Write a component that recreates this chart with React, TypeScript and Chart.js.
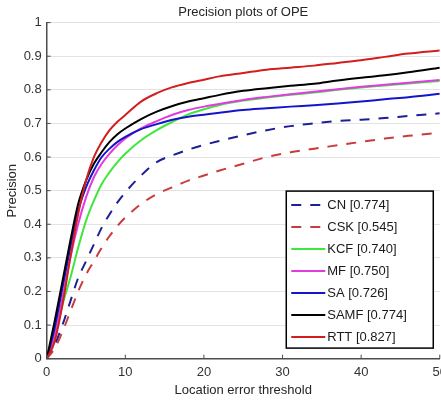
import React, { useEffect, useRef } from "react";
import { Chart, registerables } from "chart.js";

Chart.register(...registerables);

// ---- data ----
const X_THRESHOLDS = [0, 1, 2, 3, 4, 5, 6, 7, 8, 9, 10, 12, 14, 16, 18, 20, 22, 25, 28, 31, 34, 37, 40, 43, 46, 50];

const CN = [0, 0.04, 0.1, 0.17, 0.24, 0.29, 0.34, 0.39, 0.43, 0.465, 0.495, 0.545, 0.585, 0.605, 0.622, 0.636, 0.648, 0.665, 0.68, 0.692, 0.7, 0.707, 0.711, 0.716, 0.722, 0.73];
const CSK = [0, 0.03, 0.08, 0.14, 0.2, 0.25, 0.29, 0.33, 0.365, 0.395, 0.42, 0.46, 0.49, 0.51, 0.53, 0.545, 0.56, 0.58, 0.6, 0.614, 0.625, 0.635, 0.645, 0.655, 0.663, 0.672];
const KCF = [0, 0.06, 0.16, 0.24, 0.33, 0.41, 0.47, 0.52, 0.555, 0.585, 0.61, 0.65, 0.68, 0.705, 0.727, 0.742, 0.755, 0.768, 0.777, 0.785, 0.792, 0.8, 0.807, 0.813, 0.819, 0.826];
const MF = [0, 0.07, 0.18, 0.3, 0.4, 0.48, 0.54, 0.58, 0.61, 0.635, 0.655, 0.685, 0.707, 0.726, 0.74, 0.75, 0.758, 0.77, 0.779, 0.787, 0.794, 0.802, 0.809, 0.815, 0.821, 0.829];
const SA = [0, 0.09, 0.21, 0.33, 0.44, 0.51, 0.56, 0.6, 0.625, 0.645, 0.66, 0.683, 0.698, 0.711, 0.72, 0.726, 0.732, 0.74, 0.745, 0.75, 0.754, 0.759, 0.765, 0.772, 0.778, 0.788];
const SAMF = [0, 0.11, 0.23, 0.35, 0.46, 0.53, 0.58, 0.615, 0.645, 0.668, 0.685, 0.713, 0.735, 0.752, 0.765, 0.775, 0.785, 0.797, 0.805, 0.812, 0.818, 0.828, 0.836, 0.843, 0.852, 0.866];
const RTT = [0, 0.05, 0.16, 0.3, 0.43, 0.53, 0.6, 0.645, 0.68, 0.705, 0.725, 0.765, 0.79, 0.808, 0.82, 0.83, 0.84, 0.85, 0.86, 0.866, 0.872, 0.88, 0.888, 0.898, 0.908, 0.917];

const TRACKERS = ["CN", "CSK", "KCF", "MF", "SA", "SAMF", "RTT"];
const SCORES = ["0.774", "0.545", "0.740", "0.750", "0.726", "0.774", "0.827"];
const SERIES = [CN, CSK, KCF, MF, SA, SAMF, RTT];
const COLORS = ["#1e1e96", "#c83c3c", "#3ee63e", "#e03ce0", "#1515c8", "#000000", "#d21e1e"];
const DASHED = [true, true, false, false, false, false, false];

const X_TICKS = [0, 10, 20, 30, 40, 50];
const Y_TICKS = [0, 0.1, 0.2, 0.3, 0.4, 0.5, 0.6, 0.7, 0.8, 0.9, 1];

const FONT = "'Liberation Sans', Arial, sans-serif";
const DASH = [10, 9];

const inwardTicks = {
  id: "inwardTicks",
  afterDatasetsDraw(chart: any) {
    const { ctx, chartArea, scales } = chart;
    ctx.save();
    ctx.strokeStyle = "#4d4d4d";
    ctx.lineWidth = 1;
    X_TICKS.forEach((v) => {
      const x = scales.x.getPixelForValue(v);
      ctx.beginPath();
      ctx.moveTo(x, chartArea.bottom);
      ctx.lineTo(x, chartArea.bottom - 4);
      ctx.stroke();
    });
    Y_TICKS.forEach((v) => {
      const y = scales.y.getPixelForValue(v);
      ctx.beginPath();
      ctx.moveTo(chartArea.left, y);
      ctx.lineTo(chartArea.left + 4, y);
      ctx.stroke();
    });
    ctx.restore();
  },
};

const boxLegend = {
  id: "boxLegend",
  afterDraw(chart: any) {
    const { ctx, chartArea } = chart;
    const lx = chartArea.right - 153.5;
    const ly = chartArea.top + 168.5;
    const lw = 147;
    const lh = 157;
    ctx.save();
    ctx.fillStyle = "#ffffff";
    ctx.fillRect(lx, ly, lw, lh);
    ctx.strokeStyle = "#000000";
    ctx.lineWidth = 1.5;
    ctx.strokeRect(lx, ly, lw, lh);
    ctx.font = `13px ${FONT}`;
    ctx.textBaseline = "middle";
    ctx.textAlign = "left";
    chart.data.datasets.forEach((ds: any, i: number) => {
      const y = ly + 14 + i * 22;
      ctx.beginPath();
      ctx.strokeStyle = ds.borderColor;
      ctx.lineWidth = 2;
      ctx.setLineDash(ds.borderDash || []);
      ctx.moveTo(lx + 5, y);
      ctx.lineTo(lx + 39, y);
      ctx.stroke();
      ctx.setLineDash([]);
      ctx.fillStyle = "#1a1a1a";
      ctx.fillText(ds.label, lx + 41, y);
    });
    ctx.restore();
  },
};

export default function App() {
  const canvasRef = useRef<HTMLCanvasElement | null>(null);

  useEffect(() => {
    if (!canvasRef.current) return;
    const datasets = TRACKERS.map((name, i) => ({
      label: `${name} [${SCORES[i]}]`,
      data: X_THRESHOLDS.map((x, j) => ({ x, y: SERIES[i][j] })),
      borderColor: COLORS[i],
      backgroundColor: COLORS[i],
      borderWidth: 2,
      borderDash: DASHED[i] ? DASH : [],
      pointRadius: 0,
      fill: false,
      cubicInterpolationMode: "monotone" as const,
      order: TRACKERS.length - i,
    }));

    const chart = new Chart(canvasRef.current, {
      type: "line",
      data: { datasets },
      plugins: [inwardTicks, boxLegend],
      options: {
        animation: false,
        responsive: false,
        maintainAspectRatio: false,
        layout: { padding: 0 },
        plugins: {
          legend: { display: false },
          tooltip: { enabled: false },
          title: {
            display: true,
            text: "Precision plots of OPE",
            fullSize: false,
            color: "#262626",
            font: { family: FONT, size: 13, weight: "normal" },
            padding: { top: 4.3, bottom: 2.7 },
          },
        },
        scales: {
          x: {
            type: "linear",
            min: 0,
            max: 50,
            afterFit: (s: any) => {
              s.height = 42.3;
            },
            afterBuildTicks: (s: any) => {
              s.ticks = X_TICKS.map((v) => ({ value: v }));
            },
            ticks: {
              color: "#333333",
              font: { family: FONT, size: 13 },
              padding: 6,
              maxRotation: 0,
              autoSkip: false,
              callback: (v: any) => String(v),
            },
            grid: { display: true, color: "rgba(0,0,0,0)", drawTicks: false },
            border: { display: true, color: "#4d4d4d", width: 1.5 },
            title: {
              display: true,
              text: "Location error threshold",
              color: "#262626",
              font: { family: FONT, size: 13 },
              padding: { top: 0, bottom: 2.7 },
            },
          },
          y: {
            type: "linear",
            min: 0,
            max: 1,
            afterFit: (s: any) => {
              s.width = 46.7;
            },
            afterBuildTicks: (s: any) => {
              s.ticks = Y_TICKS.map((v) => ({ value: v }));
            },
            ticks: {
              color: "#333333",
              font: { family: FONT, size: 13 },
              padding: 5,
              autoSkip: false,
              callback: (v: any) => String(Math.round(Number(v) * 10) / 10),
            },
            grid: { display: true, color: "#e3e3e3", lineWidth: 1, drawTicks: false },
            border: { display: true, color: "#4d4d4d", width: 1.5 },
            title: {
              display: true,
              text: "Precision",
              color: "#262626",
              font: { family: FONT, size: 13 },
              padding: { top: 4.4, bottom: 0 },
            },
          },
        },
      },
    });
    return () => chart.destroy();
  }, []);

  return (
    <div
      style={{
        position: "fixed",
        left: 0,
        top: 0,
        width: 441,
        height: 401,
        overflow: "hidden",
        background: "#ffffff",
      }}
    >
      <canvas ref={canvasRef} width={453} height={401} style={{ display: "block" }} />
    </div>
  );
}
